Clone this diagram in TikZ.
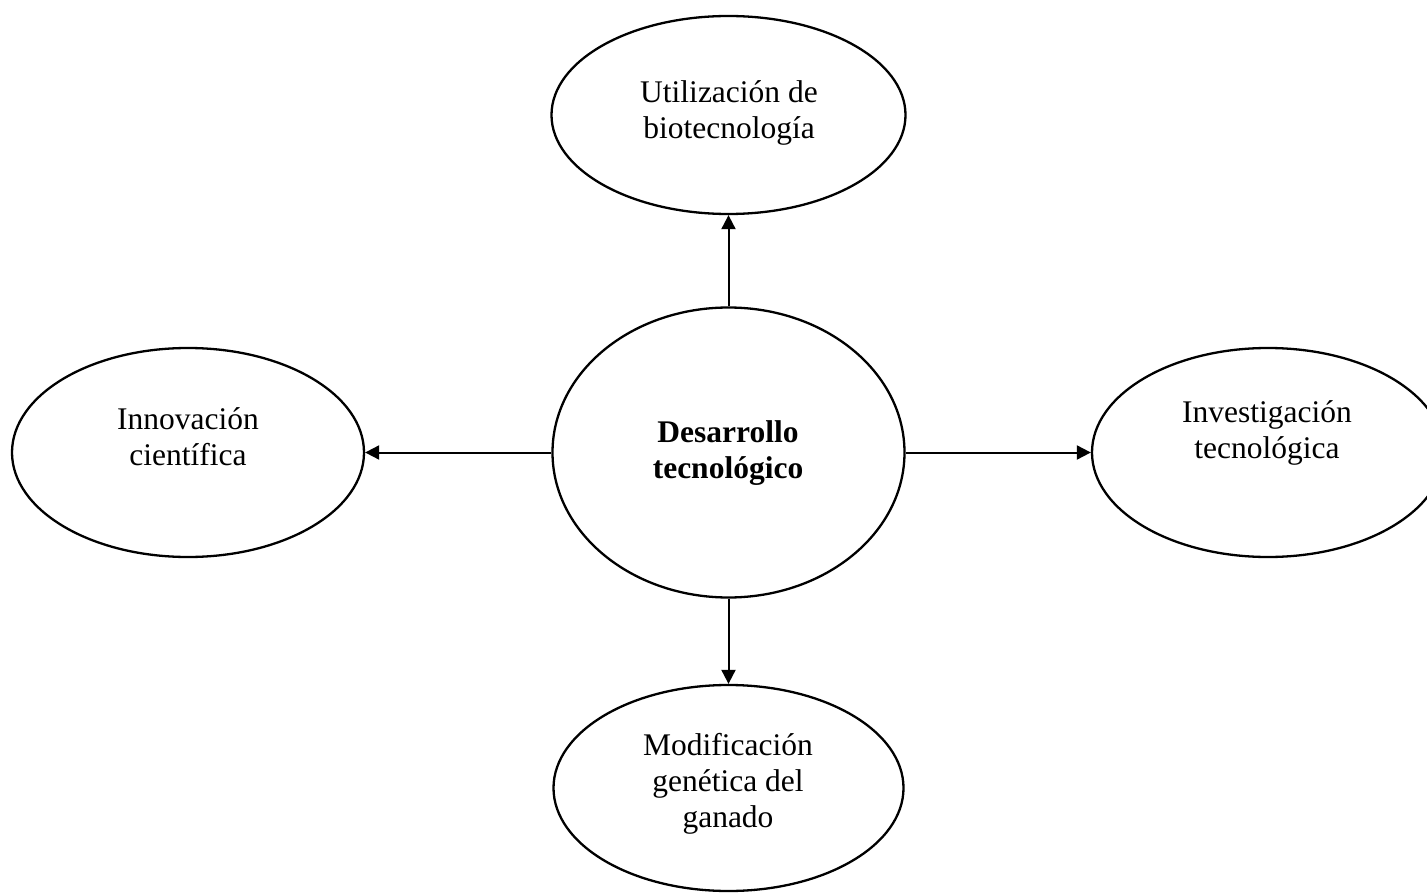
\documentclass[tikz,border=0pt]{standalone}
\usepackage{fontspec}
\setmainfont{Liberation Serif}
\usetikzlibrary{shapes.geometric,arrows.meta}
\tikzset{
  oval/.style={draw, ellipse, line width=2.3pt, inner sep=0pt},
  lbl/.style={align=center, font=\fontsize{31.5}{36}\selectfont},
  conn/.style={line width=2pt, -{Triangle[length=14pt,width=14pt]}}
}
\begin{document}
\begin{tikzpicture}[x=1pt,y=-1pt]
\useasboundingbox (0,0) rectangle (1427,893);
\node[oval, minimum width=354pt, minimum height=198pt] (top) at (728.5,115) {};
\node[oval, minimum width=352pt, minimum height=290pt] (mid) at (728.5,452.5) {};
\node[oval, minimum width=352pt, minimum height=209pt] (left) at (188,452.5) {};
\node[oval, minimum width=352pt, minimum height=209pt] (right) at (1268,452.5) {};
\node[oval, minimum width=350pt, minimum height=206pt] (bot) at (728.5,788) {};
\node[lbl] (toptxt) at (729,113) {Utilización de\\biotecnología};
\node[lbl, font=\fontsize{31.5}{36}\selectfont\bfseries] (midtxt) at (728,453) {Desarrollo\\tecnológico};
\node[lbl] (lefttxt) at (188,437) {Innovación\\científica};
\node[lbl] (righttxt) at (1267,433) {Investigación\\tecnológica};
\node[lbl] (bottxt) at (728,784) {Modificación\\genética del\\ganado};
\draw[conn] (mid.north) -- (top.south);
\draw[conn] (mid.west) -- (left.east);
\draw[conn] (mid.east) -- (right.west);
\draw[conn] (mid.south) -- (bot.north);
\end{tikzpicture}
\end{document}
